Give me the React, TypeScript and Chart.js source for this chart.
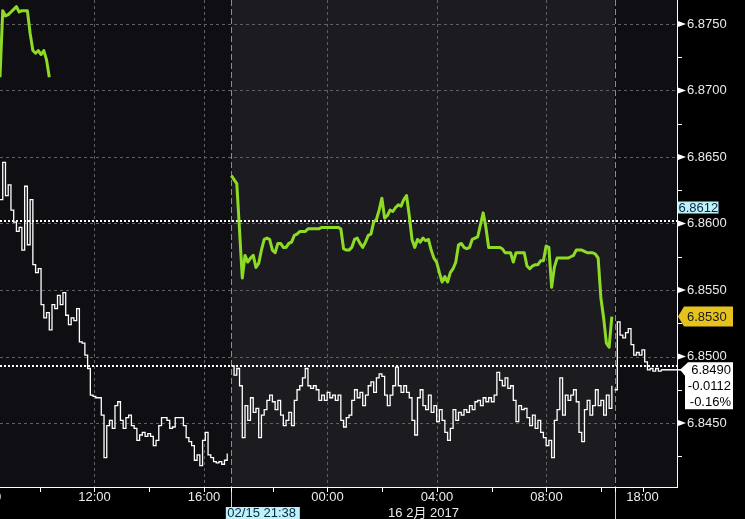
import React, { useEffect, useRef } from 'react';
import { Chart, registerables } from 'chart.js';

Chart.register(...registerables);

const FONT = '"Liberation Sans", Arial, "Noto Sans CJK SC", sans-serif';

// x axis: session-compressed hours, one sample every 0.1 h
const sampleStepHours = 0.1;
const xMinHours = 0;
const xMaxHours = 24.73;
const xTickHours = [-0.55, 1.45, 3.45, 5.45, 7.45, 9.96, 11.96, 13.96, 15.96, 17.96, 19.96, 21.96, 23.47];
const xTickLabels = ['08:00', '', '12:00', '', '16:00', '', '00:00', '', '04:00', '', '08:00', '', '18:00'];
const xGridHours = [3.45, 7.45, 11.96, 15.96, 19.96];
const sessionBreakHours = [8.45, 22.45];
const dateLabelHour = 15.47;
const dateLabelText = '16 2月 2017';
const cursorLabelText = '02/15 21:38';

// y axis
const yMinValue = 6.84019;
const yMaxValue = 6.8768;
const yTickValues = [6.8425, 6.845, 6.8475, 6.85, 6.8525, 6.855, 6.8575, 6.86, 6.8625, 6.865, 6.8675, 6.87, 6.8725, 6.875];
const dottedLevels = [6.8602, 6.8493];
const sessionHighValue = 6.8612;
const greenLastValue = 6.853;
const lastPriceValue = 6.849;
const netChangeText = '-0.0112';
const pctChangeText = '-0.16%';

// green series
const greenDayStart = 0;
const greenDay = [6.8710, 6.8760, 6.8756, 6.8757, 6.8759, 6.8761, 6.8763, 6.8759, 6.8760, 6.8760,
  6.8760, 6.8743, 6.8730, 6.8728, 6.8730, 6.8727, 6.8730, 6.8723, 6.8710];
const greenNightStart = 8.45;
const greenNight = [
  6.8636, 6.8633, 6.8630, 6.8595, 6.8559, 6.8576, 6.8571, 6.8574, 6.8576, 6.8567,
  6.8570, 6.8580, 6.8588, 6.8589, 6.8588, 6.8580, 6.8578, 6.8585, 6.8585, 6.8582,
  6.8582, 6.8585, 6.8586, 6.8591, 6.8592, 6.8594, 6.8594, 6.8594, 6.8596, 6.8596,
  6.8596, 6.8596, 6.8596, 6.8597, 6.8597, 6.8597, 6.8597, 6.8597, 6.8597, 6.8597,
  6.8596, 6.8581, 6.8580, 6.8580, 6.8582, 6.8588, 6.8589, 6.8585, 6.8582, 6.8586,
  6.8591, 6.8592, 6.8601, 6.8603, 6.8610, 6.8619, 6.8604, 6.8606, 6.8610, 6.8609,
  6.8612, 6.8614, 6.8613, 6.8618, 6.8621, 6.8606, 6.8588, 6.8582, 6.8588, 6.8586,
  6.8589, 6.8587, 6.8588, 6.8580, 6.8574, 6.8571, 6.8563, 6.8556, 6.8560, 6.8556,
  6.8563, 6.8566, 6.8571, 6.8584, 6.8585, 6.8582, 6.8581, 6.8582, 6.8588, 6.8589,
  6.8590, 6.8599, 6.8608, 6.8597, 6.8582, 6.8582, 6.8582, 6.8582, 6.8582, 6.8581,
  6.8578, 6.8578, 6.8578, 6.8571, 6.8578, 6.8578, 6.8578, 6.8578, 6.8568, 6.8566,
  6.8568, 6.8569, 6.8569, 6.8572, 6.8572, 6.8583, 6.8582, 6.8552, 6.8567, 6.8574,
  6.8574, 6.8574, 6.8574, 6.8574, 6.8575, 6.8576, 6.8580, 6.8580, 6.8580, 6.8579,
  6.8578, 6.8578, 6.8578, 6.8577, 6.8574, 6.8544, 6.8529, 6.8510, 6.8507, 6.8530];

// white series
const whiteDayStart = 0;
const whiteDay = [
  6.8618, 6.8646, 6.8621, 6.8629, 6.8610, 6.8601, 6.8594, 6.8597, 6.8580, 6.8628,
  6.8584, 6.8618, 6.8569, 6.8563, 6.8566, 6.8539, 6.8529, 6.8533, 6.8520, 6.8539,
  6.8536, 6.8546, 6.8539, 6.8548, 6.8531, 6.8524, 6.8529, 6.8527, 6.8536, 6.8511,
  6.8510, 6.8501, 6.8491, 6.8471, 6.8470, 6.8469, 6.8469, 6.8456, 6.8424, 6.8448,
  6.8452, 6.8446, 6.8463, 6.8466, 6.8452, 6.8446, 6.8454, 6.8456, 6.8448, 6.8446,
  6.8437, 6.8441, 6.8443, 6.8440, 6.8442, 6.8440, 6.8433, 6.8437, 6.8448, 6.8454,
  6.8454, 6.8452, 6.8446, 6.8447, 6.8454, 6.8454, 6.8454, 6.8448, 6.8439, 6.8436,
  6.8433, 6.8422, 6.8426, 6.8418, 6.8437, 6.8443, 6.8426, 6.8424, 6.8421, 6.8420,
  6.8421, 6.8419, 6.8422, 6.8427];
const whiteNightStart = 8.45;
const whiteNight = [
  6.8493, 6.8486, 6.8491, 6.8478, 6.8439, 6.8463, 6.8452, 6.8469, 6.8458, 6.8461,
  6.8439, 6.8456, 6.8460, 6.8467, 6.8471, 6.8466, 6.8460, 6.8467, 6.8456, 6.8448,
  6.8452, 6.8458, 6.8448, 6.8467, 6.8475, 6.8478, 6.8484, 6.8491, 6.8478, 6.8476,
  6.8478, 6.8475, 6.8467, 6.8471, 6.8467, 6.8473, 6.8469, 6.8471, 6.8467, 6.8471,
  6.8452, 6.8447, 6.8454, 6.8456, 6.8467, 6.8475, 6.8469, 6.8473, 6.8463, 6.8471,
  6.8478, 6.8481, 6.8473, 6.8484, 6.8487, 6.8485, 6.8471, 6.8463, 6.8471, 6.8478,
  6.8492, 6.8478, 6.8473, 6.8478, 6.8473, 6.8469, 6.8452, 6.8441, 6.8469, 6.8475,
  6.8463, 6.8460, 6.8471, 6.8458, 6.8463, 6.8451, 6.8460, 6.8452, 6.8443, 6.8437,
  6.8446, 6.8460, 6.8452, 6.8458, 6.8456, 6.8460, 6.8458, 6.8463, 6.8460, 6.8466,
  6.8467, 6.8463, 6.8469, 6.8466, 6.8469, 6.8466, 6.8471, 6.8488, 6.8482, 6.8478,
  6.8484, 6.8476, 6.8478, 6.8467, 6.8451, 6.8463, 6.8460, 6.8461, 6.8454, 6.8448,
  6.8456, 6.8446, 6.8452, 6.8443, 6.8439, 6.8433, 6.8437, 6.8424, 6.8452, 6.8460,
  6.8484, 6.8456, 6.8471, 6.8467, 6.8471, 6.8475, 6.8466, 6.8443, 6.8436, 6.8460,
  6.8467, 6.8456, 6.8463, 6.8475, 6.8463, 6.8467, 6.8456, 6.8471, 6.8461, 6.8478];
const whiteLateStart = 22.45;
const whiteLate = [6.8475, 6.8526, 6.8516, 6.8514, 6.8518, 6.8521, 6.8509, 6.8501, 6.8503,
  6.8501, 6.8505, 6.8496, 6.8490, 6.8491, 6.8489, 6.8491, 6.8489, 6.8490];

const toPoints = (start: number, values: number[]) =>
  values.map((v, i) => ({ x: +(start + i * sampleStepHours).toFixed(3), y: v }));

const isMajor = (v: number) => Math.round(v * 10000) % 50 === 0;

const GREEN = '#8edb26';
const WHITE = '#ffffff';

const decorPlugin = {
  id: 'bbgDecor',
  beforeDraw(chart: any) {
    const { ctx, chartArea: a, scales } = chart;
    const xs = scales.x;
    const ys = scales.y;
    ctx.save();
    ctx.fillStyle = '#000000';
    ctx.fillRect(0, 0, chart.width, chart.height);
    ctx.fillStyle = '#0f0e13';
    ctx.fillRect(a.left, a.top, a.right - a.left, a.bottom - a.top);
    const b0 = xs.getPixelForValue(sessionBreakHours[0]);
    const b1 = xs.getPixelForValue(sessionBreakHours[1]);
    ctx.fillStyle = '#1c1b20';
    ctx.fillRect(b0, a.top, b1 - b0, a.bottom - a.top);

    ctx.lineWidth = 1;
    ctx.strokeStyle = '#5f5f64';
    ctx.setLineDash([3, 3]);
    yTickValues.filter(isMajor).forEach((v) => {
      const py = Math.round(ys.getPixelForValue(v)) + 0.5;
      ctx.beginPath(); ctx.moveTo(a.left, py); ctx.lineTo(a.right, py); ctx.stroke();
    });
    xGridHours.forEach((h) => {
      const px = Math.round(xs.getPixelForValue(h)) + 0.5;
      ctx.beginPath(); ctx.moveTo(px, a.top); ctx.lineTo(px, a.bottom); ctx.stroke();
    });
    ctx.strokeStyle = '#8c8c90';
    ctx.setLineDash([6, 3]);
    sessionBreakHours.forEach((h) => {
      const px = Math.round(xs.getPixelForValue(h)) + 0.5;
      ctx.beginPath(); ctx.moveTo(px, a.top); ctx.lineTo(px, a.bottom); ctx.stroke();
    });
    ctx.setLineDash([]);
    ctx.strokeStyle = '#d0d0d0';
    sessionBreakHours.forEach((h) => {
      const px = Math.round(xs.getPixelForValue(h)) + 0.5;
      ctx.beginPath(); ctx.moveTo(px, a.bottom); ctx.lineTo(px, chart.height); ctx.stroke();
    });
    ctx.strokeStyle = '#ffffff';
    ctx.lineWidth = 2;
    ctx.setLineDash([2, 2]);
    dottedLevels.forEach((v) => {
      const py = Math.round(ys.getPixelForValue(v));
      ctx.beginPath(); ctx.moveTo(a.left, py); ctx.lineTo(a.right, py); ctx.stroke();
    });
    ctx.restore();
  },
  afterDraw(chart: any) {
    const { ctx, chartArea: a, scales } = chart;
    const xs = scales.x;
    const ys = scales.y;
    const axisX = a.right;
    ctx.save();
    ctx.strokeStyle = '#ffffff';
    ctx.fillStyle = '#ffffff';
    ctx.lineWidth = 1;
    ctx.beginPath(); ctx.moveTo(axisX + 0.5, 0); ctx.lineTo(axisX + 0.5, a.bottom + 1); ctx.stroke();
    ctx.beginPath(); ctx.moveTo(a.left, a.bottom + 0.5); ctx.lineTo(axisX + 1, a.bottom + 0.5); ctx.stroke();
    [...xTickHours, ...sessionBreakHours].forEach((h) => {
      if (h < xMinHours || h > xMaxHours) return;
      const px = Math.round(xs.getPixelForValue(h)) + 0.5;
      ctx.beginPath(); ctx.moveTo(px, a.bottom); ctx.lineTo(px, a.bottom + 5); ctx.stroke();
    });
    yTickValues.forEach((v) => {
      const py = ys.getPixelForValue(v);
      if (isMajor(v)) {
        ctx.beginPath();
        ctx.moveTo(axisX + 1, py - 3);
        ctx.lineTo(axisX + 9, py);
        ctx.lineTo(axisX + 1, py + 3);
        ctx.closePath();
        ctx.fill();
      } else {
        const p = Math.round(py) + 0.5;
        ctx.beginPath(); ctx.moveTo(axisX, p); ctx.lineTo(axisX + 5, p); ctx.stroke();
      }
    });

    // last price extension
    const lastX = xs.getPixelForValue(whiteLateStart + (whiteLate.length - 1) * sampleStepHours);
    const wy = ys.getPixelForValue(lastPriceValue);
    ctx.lineWidth = 1.5;
    ctx.beginPath(); ctx.moveTo(lastX, wy); ctx.lineTo(axisX + 4, wy); ctx.stroke();

    ctx.font = `13px ${FONT}`;
    ctx.textBaseline = 'middle';

    // session high (cyan)
    const cy = ys.getPixelForValue(sessionHighValue);
    ctx.fillStyle = '#bdf2f8';
    ctx.fillRect(axisX + 0.5, cy - 6, 41, 12);
    ctx.fillStyle = '#0b2544';
    ctx.textAlign = 'left';
    ctx.fillText(sessionHighValue.toFixed(4), axisX + 1.5, cy + 0.5);

    // green last (yellow)
    const gy = ys.getPixelForValue(greenLastValue);
    ctx.fillStyle = '#e6c21f';
    ctx.beginPath();
    ctx.moveTo(axisX + 1, gy);
    ctx.lineTo(axisX + 7, gy - 10);
    ctx.lineTo(733, gy - 10);
    ctx.lineTo(733, gy + 10);
    ctx.lineTo(axisX + 7, gy + 10);
    ctx.closePath();
    ctx.fill();
    ctx.fillStyle = '#1a1a1a';
    ctx.fillText(greenLastValue.toFixed(4), axisX + 10, gy + 0.5);

    // last price box (white)
    ctx.fillStyle = '#ffffff';
    ctx.beginPath();
    ctx.moveTo(axisX + 3, wy);
    ctx.lineTo(axisX + 11, wy - 7.5);
    ctx.lineTo(733, wy - 7.5);
    ctx.lineTo(733, wy + 39.5);
    ctx.lineTo(axisX + 8, wy + 39.5);
    ctx.lineTo(axisX + 8, wy + 6);
    ctx.closePath();
    ctx.fill();
    ctx.fillStyle = '#000000';
    ctx.textAlign = 'right';
    ctx.fillText(lastPriceValue.toFixed(4), 731, wy + 0.5);
    ctx.fillText(netChangeText, 731, wy + 17);
    ctx.fillText(pctChangeText, 731, wy + 33);

    // bottom cursor + date labels
    const bx = xs.getPixelForValue(sessionBreakHours[0]);
    ctx.fillStyle = '#bdf2f8';
    ctx.fillRect(bx - 5.5, 507, 74, 12);
    ctx.fillStyle = '#0b2544';
    ctx.textAlign = 'left';
    ctx.fillText(cursorLabelText, bx - 4, 513.5);
    ctx.fillStyle = '#ebebeb';
    ctx.textAlign = 'center';
    ctx.fillText(dateLabelText, xs.getPixelForValue(dateLabelHour), 513);
    ctx.restore();
  },
};

export default function App() {
  const canvasRef = useRef<HTMLCanvasElement>(null);

  useEffect(() => {
    document.body.style.margin = '0';
    document.body.style.background = '#000';
    const canvas = canvasRef.current;
    if (!canvas) return;
    const lineBase = { pointRadius: 0, pointHoverRadius: 0, tension: 0, fill: false };
    const chart = new Chart(canvas, {
      type: 'line',
      data: {
        datasets: [
          { ...lineBase, label: 'white-day', data: toPoints(whiteDayStart, whiteDay), borderColor: WHITE, borderWidth: 1.3, stepped: true },
          { ...lineBase, label: 'white-night', data: toPoints(whiteNightStart, whiteNight), borderColor: WHITE, borderWidth: 1.3, stepped: true },
          { ...lineBase, label: 'white-late', data: toPoints(whiteLateStart, whiteLate), borderColor: WHITE, borderWidth: 1.3, stepped: true },
          { ...lineBase, label: 'green-day', data: toPoints(greenDayStart, greenDay), borderColor: GREEN, borderWidth: 3, borderJoinStyle: 'round' },
          { ...lineBase, label: 'green-night', data: toPoints(greenNightStart, greenNight), borderColor: GREEN, borderWidth: 3, borderJoinStyle: 'round' },
        ],
      } as any,
      options: {
        animation: false,
        responsive: false,
        maintainAspectRatio: false,
        devicePixelRatio: 1,
        events: [],
        layout: { padding: 0 },
        plugins: { legend: { display: false }, tooltip: { enabled: false }, title: { display: false } },
        scales: {
          x: {
            type: 'linear',
            min: xMinHours,
            max: xMaxHours,
            bounds: 'data',
            grid: { display: false, drawTicks: false },
            border: { display: false },
            afterBuildTicks: (s: any) => { s.ticks = xTickHours.map((v) => ({ value: v })); },
            afterFit: (s: any) => { s.height = 32; s.paddingLeft = 0; s.paddingRight = 0; },
            ticks: {
              autoSkip: false,
              maxRotation: 0,
              minRotation: 0,
              padding: 3,
              color: '#ebebeb',
              font: { family: FONT, size: 13 },
              callback: (_v: any, i: number) => xTickLabels[i] ?? '',
            },
          },
          y: {
            type: 'linear',
            position: 'right',
            min: yMinValue,
            max: yMaxValue,
            bounds: 'data',
            grid: { display: false, drawTicks: false },
            border: { display: false },
            afterBuildTicks: (s: any) => { s.ticks = yTickValues.map((v) => ({ value: v })); },
            afterFit: (s: any) => { s.width = 68; s.paddingTop = 0; s.paddingBottom = 0; },
            ticks: {
              autoSkip: false,
              padding: 10,
              color: '#ebebeb',
              font: { family: FONT, size: 13 },
              callback: (v: any) => (isMajor(Number(v)) ? Number(v).toFixed(4) : ''),
            },
          },
        },
      } as any,
      plugins: [decorPlugin],
    });
    return () => chart.destroy();
  }, []);

  return (
    <div style={{ position: 'absolute', left: 0, top: 0, width: 745, height: 519 }}>
      <canvas ref={canvasRef} width={745} height={519} style={{ display: 'block', width: 745, height: 519 }} />
    </div>
  );
}
